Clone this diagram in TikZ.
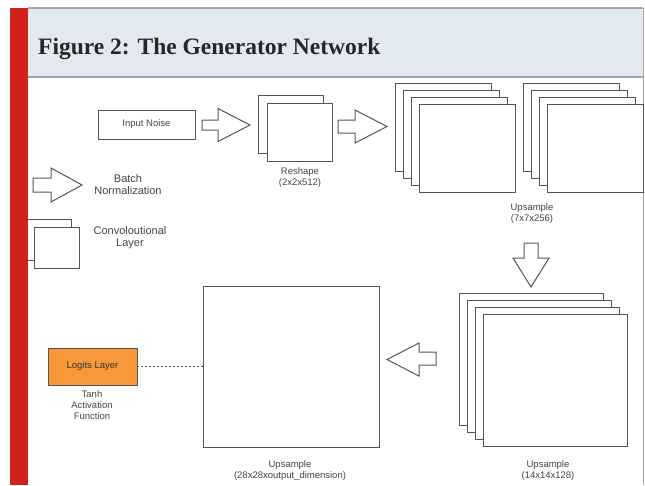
\documentclass[tikz,border=0pt]{standalone}
\usepackage{fontspec}
\setmainfont{Liberation Sans}
\newfontfamily\titlefont{Liberation Serif}
\definecolor{linegray}{HTML}{555555}
\definecolor{textgray}{HTML}{444444}
\definecolor{logitorange}{HTML}{F7993B}
\definecolor{redbar}{HTML}{D2211A}
\definecolor{bandfill}{HTML}{E3E9F0}
\definecolor{bandline}{HTML}{A3A7AB}
\definecolor{titlecol}{HTML}{262626}
\begin{document}
\begin{tikzpicture}[x=1pt,y=-1pt,
  ln/.style={draw=linegray,line width=1pt},
  sheet/.style={ln,fill=white,anchor=north west,inner sep=0pt,outer sep=0pt},
  lbl/.style={font=\fontsize{9.5}{11}\selectfont,text=textgray,align=center,inner sep=0pt},
  leg/.style={font=\fontsize{11}{12}\selectfont,text=textgray,align=center,inner sep=0pt},
  blockarrow/.style={ln,fill=white,line join=miter}]
\useasboundingbox (0,0) rectangle (645,485);
\fill[white] (0,0) rectangle (645,485);
% header band
\fill[bandfill] (28,8) rectangle (643,77);
\draw[bandline,line width=1.5pt] (28,8) -- (643,8);
\draw[bandline,line width=1.5pt] (28,77) -- (643,77);
\draw[bandline,line width=1pt] (643,8) -- (643,485);
\node[anchor=base west,inner sep=0pt,text=titlecol,font=\titlefont\bfseries\fontsize{23.5}{28}\selectfont] (title) at (38,54) {Figure 2: The Generator Network};

% legend stack (back sheet partly under red bar)
\node[sheet,minimum width=45pt,minimum height=41pt] (legback) at (26,219) {};
\node[sheet,minimum width=45pt,minimum height=41pt] (legfront) at (34,227) {};

% red bar
\fill[redbar] (10,8) rectangle (28,485);

% legend arrow
\draw[blockarrow] (33,178) -- (51,178) -- (51,168) -- (82,185) -- (51,202) -- (51,192) -- (33,192) -- cycle;
\node[leg] (bnlbl) at (128,184.5) {Batch\\Normalization};
\node[leg] (convlbl) at (130,237.5) {Convoloutional\\Layer};

% input noise
\node[sheet,minimum width=97pt,minimum height=29pt] (noise) at (98,110) {};
\node[lbl] (noisetxt) at (noise.center) {Input Noise};

% arrow 1
\draw[blockarrow] (202,120) -- (218,120) -- (218,108.5) -- (250,125) -- (218,141.5) -- (218,130) -- (202,130) -- cycle;

% reshape
\node[sheet,minimum width=65pt,minimum height=58pt] (rsback) at (258,95) {};
\node[sheet,minimum width=65pt,minimum height=58pt] (rsfront) at (267,103) {};
\node[lbl] (rslbl) at (300,177.5) {Reshape\\(2x2x512)};

% arrow 2
\draw[blockarrow] (338,120) -- (355,120) -- (355,110) -- (387,126.5) -- (355,143) -- (355,133) -- (338,133) -- cycle;

% upsample 7x7 stacks
\foreach \i in {0,...,3}{
  \node[sheet,minimum width=96pt,minimum height=88pt] (sa\i) at ({395+8*\i},{83+7*\i}) {};
}
\foreach \i in {0,...,3}{
  \node[sheet,minimum width=96pt,minimum height=88pt] (sb\i) at ({523+8*\i},{83+7*\i}) {};
}
\node[lbl] (up7lbl) at (532,213.5) {Upsample\\(7x7x256)};

% down arrow
\draw[blockarrow] (524,243) -- (538,243) -- (538,258) -- (549,258) -- (531,287) -- (513,258) -- (524,258) -- cycle;

% upsample 14x14 stack
\foreach \i in {0,...,3}{
  \node[sheet,minimum width=144pt,minimum height=132pt] (sc\i) at ({459+8*\i},{293+7.33*\i}) {};
}
\node[lbl] (up14lbl) at (548,471) {Upsample\\(14x14x128)};

% left arrow
\draw[blockarrow] (436,352) -- (419,352) -- (419,343) -- (387,359.5) -- (419,376) -- (419,365) -- (436,365) -- cycle;

% big output box
\node[sheet,minimum width=176pt,minimum height=161pt] (big) at (203,286) {};
\node[lbl] (up28lbl) at (290,470.5) {Upsample\\(28x28xoutput\_dimension)};

% logits layer
\node[sheet,fill=logitorange,draw=linegray,minimum width=89pt,minimum height=37pt] (logits) at (48,348) {};
\node[lbl,text=black!80] (logitstxt) at (logits.center) {Logits Layer};
\node[lbl] (tanhlbl) at (92,405) {Tanh\\Activation\\Function};
\draw[linegray,line width=0.8pt,dash pattern=on 2pt off 2pt] (logits.east) -- (big.west);
\end{tikzpicture}
\end{document}
